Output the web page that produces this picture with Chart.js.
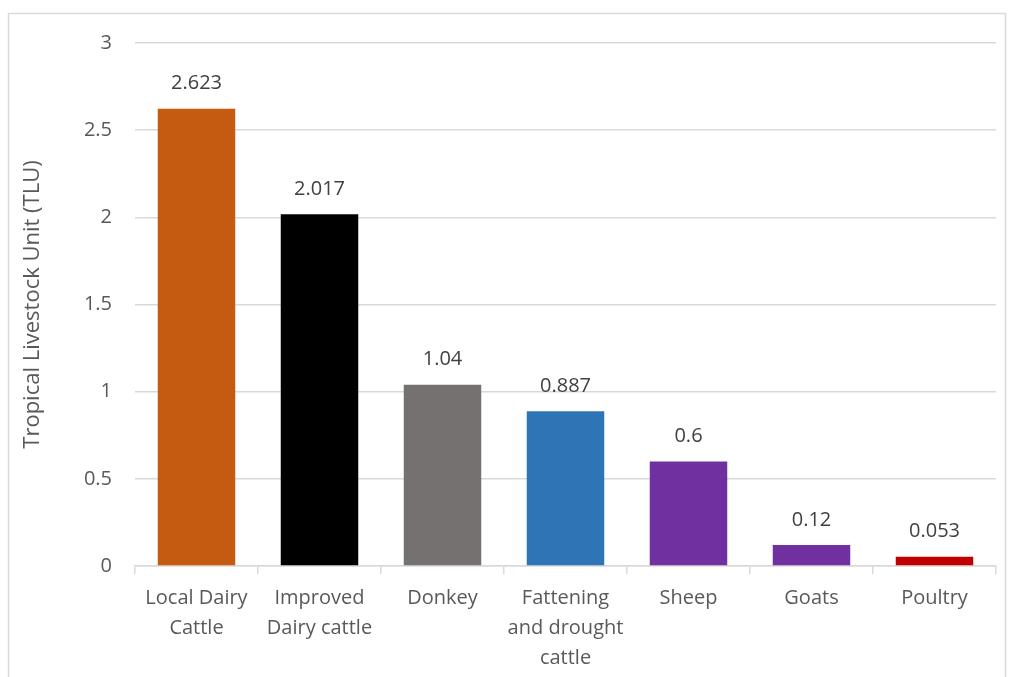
<!DOCTYPE html>
<html>
<head>
<meta charset="utf-8">
<script src="https://cdn.jsdelivr.net/npm/chart.js@4/dist/chart.umd.min.js"></script>
<style>
  html, body { margin: 0; padding: 0; background: #fff; }
  #wrap { width: 1011px; height: 677px; position: relative; }
</style>
</head>
<body>
<div id="wrap"><canvas id="tluChart" width="1011" height="677"></canvas></div>
<script>
const categories = [
  ["Local Dairy", "Cattle"],
  ["Improved", "Dairy cattle"],
  "Donkey",
  ["Fattening", "and drought", "cattle"],
  "Sheep",
  "Goats",
  "Poultry"
];
const tluValues = [2.623, 2.017, 1.04, 0.887, 0.6, 0.12, 0.053];
const barColors = ["#C55A11", "#000000", "#767171", "#2E75B6", "#7030A0", "#7030A0", "#C00000"];

const FONT = "'Open Sans', 'Liberation Sans', sans-serif";
const TEXT = "#595959";
const GRID = "#d9d9d9";

// value labels above each bar + light frame round the chart
const extras = {
  id: "extras",
  afterDatasetsDraw(chart) {
    const ctx = chart.ctx;
    const meta = chart.getDatasetMeta(0);
    ctx.save();
    ctx.font = "20px " + FONT;
    ctx.fillStyle = "#404040";
    ctx.textAlign = "center";
    ctx.textBaseline = "middle";
    meta.data.forEach((bar, i) => {
      ctx.fillText(String(tluValues[i]), bar.x, bar.y - 25);
    });
    ctx.restore();
  },
  afterDraw(chart) {
    const ctx = chart.ctx;
    ctx.save();
    ctx.strokeStyle = GRID;
    ctx.lineWidth = 1.5;
    ctx.strokeRect(8.5, 13.5, 997, 700);
    ctx.restore();
  }
};

new Chart(document.getElementById("tluChart").getContext("2d"), {
  type: "bar",
  data: {
    labels: categories,
    datasets: [{
      data: tluValues,
      backgroundColor: barColors,
      barPercentage: 0.63,
      categoryPercentage: 1
    }]
  },
  options: {
    responsive: false,
    animation: false,
    layout: { padding: { left: 20, right: 15, top: 43, bottom: 0 } },
    plugins: {
      legend: { display: false },
      tooltip: { enabled: false }
    },
    scales: {
      y: {
        min: 0,
        max: 3,
        ticks: {
          stepSize: 0.5,
          color: TEXT,
          padding: 23,
          font: { family: FONT, size: 20 },
          callback: (v) => String(v)
        },
        grid: { color: GRID, lineWidth: 1.5, drawTicks: false },
        border: { display: false },
        title: {
          display: true,
          text: "Tropical Livestock Unit (TLU)",
          color: TEXT,
          font: { family: FONT, size: 22 },
          padding: 0
        },
        afterFit(scale) { scale.width = 115; }
      },
      x: {
        ticks: { color: TEXT, padding: 9, font: { family: FONT, size: 20, lineHeight: 1.5 }, maxRotation: 0 },
        grid: { offset: true, drawOnChartArea: false, color: GRID, lineWidth: 1.5, tickLength: 8 },
        border: { color: GRID, width: 1.5 },
        afterFit(scale) { scale.height = 111; }
      }
    }
  },
  plugins: [extras]
});
</script>
</body>
</html>
